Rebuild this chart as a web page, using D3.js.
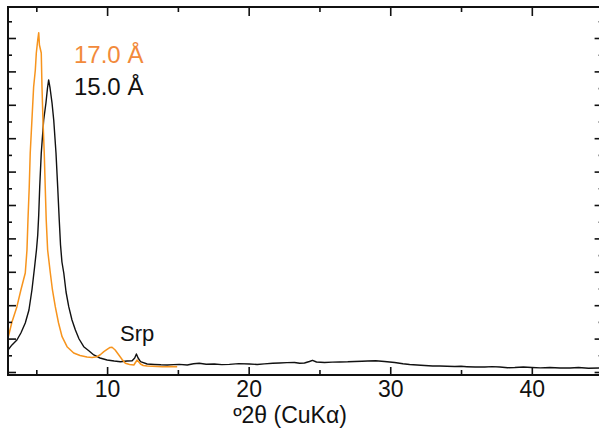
<!DOCTYPE html>
<html>
<head>
<meta charset="utf-8">
<script src="https://cdn.jsdelivr.net/npm/d3@7"></script>
<style>
  html, body { margin: 0; padding: 0; background: #fff; }
  svg { display: block; font-family: "Liberation Sans", Arial, Helvetica, sans-serif; }
</style>
</head>
<body>
<svg id="chart" width="599" height="430"></svg>
<script>
// XRD pattern, ethylene-glycol solvated (17.0 Å) vs air-dried (15.0 Å)
const airTheta = [3.0, 3.28, 3.63, 3.91, 4.22, 4.48, 4.69, 4.87, 5.01, 5.10, 5.17, 5.24, 5.35, 5.52, 5.68, 5.79, 5.87,
  5.97, 6.11, 6.23, 6.39, 6.51, 6.62, 6.71, 6.81, 6.94, 7.10, 7.29, 7.52, 7.76, 8.02, 8.35, 8.73, 9.06, 9.50, 10.0,
  10.5, 10.94, 11.41, 11.77, 11.95, 12.07, 12.19, 12.36, 12.83, 13.33, 13.8, 14.25, 14.7, 15.1, 15.66, 16.1, 16.51,
  17.0, 17.57, 18.1, 18.64, 19.3, 20.05, 20.6, 21.11, 21.7, 22.17, 22.7, 23.24, 23.6, 23.94, 24.29, 24.51, 24.79,
  25.36, 25.9, 26.42, 27.0, 27.48, 28.0, 28.4, 28.97, 29.6, 30.31, 30.9, 31.37, 31.9, 32.43, 33.0, 33.5, 34.0,
  34.56, 35.0, 35.41, 36.0, 36.68, 37.2, 37.74, 38.3, 38.8, 39.4, 40.0, 40.6, 41.28, 42.0, 42.7, 43.3, 44.0, 44.75, 45.0];
const airCounts = [660, 810, 958, 1168, 1467, 1856, 2455, 3114, 3653, 4102, 4701, 5539, 6557, 7545, 8054, 8503, 8743,
  8503, 8054, 7545, 6557, 5539, 4551, 3802, 3293, 2964, 2395, 1955, 1557, 1257, 988, 758, 629, 509, 419, 359,
  329, 308, 329, 338, 419, 539, 419, 308, 240, 225, 215, 210, 222, 228, 210, 248, 262,
  232, 240, 220, 228, 250, 240, 225, 242, 262, 270, 282, 284, 262, 270, 314, 350, 299,
  284, 296, 300, 305, 314, 322, 329, 336, 314, 284, 248, 225, 210, 195, 178, 180, 172,
  165, 170, 159, 148, 150, 160, 150, 128, 135, 150, 135, 122, 135, 118, 120, 135, 112, 120, 120];

const glyTheta = [3.0, 3.28, 3.63, 3.91, 4.22, 4.34, 4.41, 4.50, 4.57, 4.69, 4.81, 4.93, 5.0, 5.10, 5.17, 5.22, 5.35,
  5.40, 5.47, 5.56, 5.63, 5.70, 5.80, 5.99, 6.14, 6.34, 6.57, 6.82, 7.17, 7.64, 8.09, 8.58, 8.94, 9.29, 9.54, 9.77,
  10.0, 10.21, 10.35, 10.57, 10.83, 11.06, 11.29, 11.59, 11.89, 12.12, 12.36, 12.55, 12.83, 13.2, 13.54, 13.9, 14.25, 14.6, 14.95];
const glyCounts = [1018, 1497, 1955, 2455, 2964, 3653, 4551, 5539, 6557, 7545, 8533, 9042, 9551, 9940, 10159, 9790, 9551,
  8542, 7545, 6557, 5539, 4551, 3653, 2964, 2455, 1955, 1467, 1057, 758, 569, 494, 449, 434, 458, 524, 608,
  674, 734, 740, 659, 509, 374, 260, 225, 210, 359, 240, 195, 180, 172, 165, 160, 159, 162, 159];

const majorX = [10, 20, 30, 40];
const minorX = [5, 15, 25, 35];
const majorY = [0, 1000, 2000, 3000, 4000, 5000, 6000, 7000, 8000, 9000, 10000];
const minorY = [500, 1500, 2500, 3500, 4500, 5500, 6500, 7500, 8500, 9500, 10500];

const seriesLabels = ["17.0 Å", "15.0 Å"];
const peakLabel = "Srp";
const xTitle = "º2θ (CuKα)";

const orange = "#F7941D";
const ink = "#111";

const svg = d3.select("#chart");
const plotL = 8, plotT = 7, plotR = 602.6, plotB = 375;

const x = d3.scaleLinear().domain([3, 45]).range([plotL, plotR]);
const y = d3.scaleLinear().domain([-90, 10928]).range([plotB, plotT]);

// Traces
const line = d3.line().x(d => x(d[0])).y(d => y(d[1]));
svg.append("path")
  .datum(airTheta.map((t, i) => [t, airCounts[i]]))
  .attr("d", line).attr("fill", "none").attr("stroke", ink).attr("stroke-width", 1.4)
  .attr("stroke-linejoin", "round");
svg.append("path")
  .datum(glyTheta.map((t, i) => [t, glyCounts[i]]))
  .attr("d", line).attr("fill", "none").attr("stroke", orange).attr("stroke-width", 1.5)
  .attr("stroke-linejoin", "round");

// Axes: inward ticks on all four sides, labels only on the bottom
function styleAxis(g) {
  g.select(".domain").remove();
  g.selectAll(".tick line").attr("stroke", ink).attr("stroke-width", 1.6);
  g.selectAll("text").attr("fill", ink).attr("font-size", 23)
    .attr("font-family", "'Liberation Sans', Arial, sans-serif");
}
svg.append("g").attr("transform", `translate(0,${plotB})`)
  .call(d3.axisBottom(x).tickValues(majorX).tickSizeInner(-8).tickSizeOuter(0).tickPadding(6).tickFormat(d3.format("d")))
  .call(styleAxis);
svg.append("g").attr("transform", `translate(0,${plotB})`)
  .call(d3.axisBottom(x).tickValues(minorX).tickSizeInner(-5).tickSizeOuter(0).tickFormat(""))
  .call(styleAxis);
svg.append("g").attr("transform", `translate(0,${plotT})`)
  .call(d3.axisTop(x).tickValues(majorX).tickSizeInner(-9).tickSizeOuter(0).tickFormat(""))
  .call(styleAxis);
svg.append("g").attr("transform", `translate(0,${plotT})`)
  .call(d3.axisTop(x).tickValues(minorX).tickSizeInner(-5).tickSizeOuter(0).tickFormat(""))
  .call(styleAxis);
svg.append("g").attr("transform", `translate(${plotL},0)`)
  .call(d3.axisLeft(y).tickValues(majorY).tickSizeInner(-8).tickSizeOuter(0).tickFormat(""))
  .call(styleAxis);
svg.append("g").attr("transform", `translate(${plotL},0)`)
  .call(d3.axisLeft(y).tickValues(minorY).tickSizeInner(-4).tickSizeOuter(0).tickFormat(""))
  .call(styleAxis);
svg.append("g").attr("transform", `translate(${plotR},0)`)
  .call(d3.axisRight(y).tickValues(majorY).tickSizeInner(-8).tickSizeOuter(0).tickFormat(""))
  .call(styleAxis);
svg.append("g").attr("transform", `translate(${plotR},0)`)
  .call(d3.axisRight(y).tickValues(minorY).tickSizeInner(-4).tickSizeOuter(0).tickFormat(""))
  .call(styleAxis);

// Frame
svg.append("rect")
  .attr("x", plotL).attr("y", plotT).attr("width", plotR - plotL).attr("height", plotB - plotT)
  .attr("fill", "none").attr("stroke", ink).attr("stroke-width", 2);

// Labels
svg.append("text").attr("x", 74).attr("y", 63).attr("font-size", 24).attr("fill", "#F28A3B")
  .text(seriesLabels[0]);
svg.append("text").attr("x", 74).attr("y", 95).attr("font-size", 24).attr("fill", ink)
  .text(seriesLabels[1]);
svg.append("text").attr("x", 120).attr("y", 341).attr("font-size", 22).attr("fill", ink)
  .text(peakLabel);
svg.append("text").attr("x", 290).attr("y", 423).attr("text-anchor", "middle").attr("font-size", 23).attr("fill", ink)
  .text(xTitle);
</script>
</body>
</html>
